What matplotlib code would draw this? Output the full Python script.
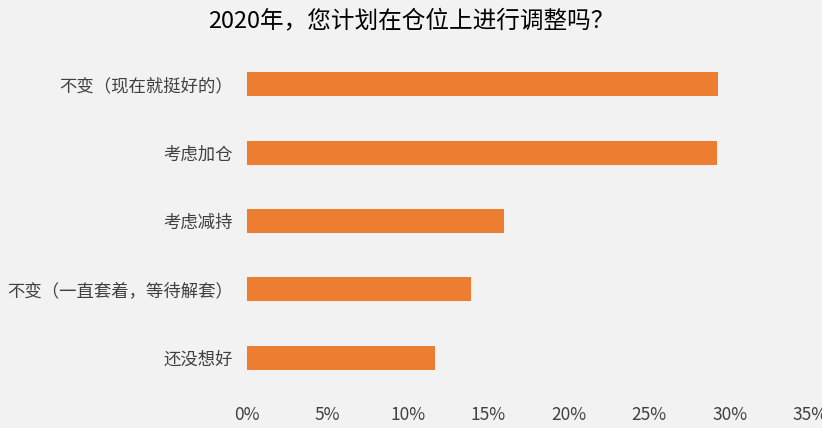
import matplotlib
matplotlib.use("Agg")
import matplotlib.pyplot as plt
from matplotlib.ticker import FuncFormatter

plt.rcParams['font.family'] = ['Noto Sans CJK SC', 'DejaVu Sans']

categories = ["不变（现在就挺好的）", "考虑加仓", "考虑减持", "不变（一直套着，等待解套）", "还没想好"]
values = [29.3, 29.2, 16.0, 13.9, 11.7]
ticks = [0, 5, 10, 15, 20, 25, 30, 35]

fig = plt.figure(figsize=(8.22, 4.28), dpi=100, facecolor='#f2f2f2')
ax = fig.add_axes([247/822, 1-392/428, (810-247)/822, (392-50)/428], facecolor='#f2f2f2')
y = list(range(len(categories)))
ax.barh(y, values, height=0.35, color='#ed7d31')
ax.set_ylim(4.5, -0.5)
ax.set_xlim(0, 35)
ax.set_xticks(ticks)
ax.xaxis.set_major_formatter(FuncFormatter(lambda v, p: f"{v:.0f}%"))
ax.set_yticks(y)
ax.set_yticklabels(categories)
for s in ax.spines.values():
    s.set_visible(False)
ax.tick_params(length=0, labelsize=12.5, colors='#404040', pad=10)
fig.text(0.5, 1-22/428, "2020年，您计划在仓位上进行调整吗？", ha='center', va='center', fontsize=17, color='#000000')
fig.savefig("out.png", dpi=100, facecolor=fig.get_facecolor())
